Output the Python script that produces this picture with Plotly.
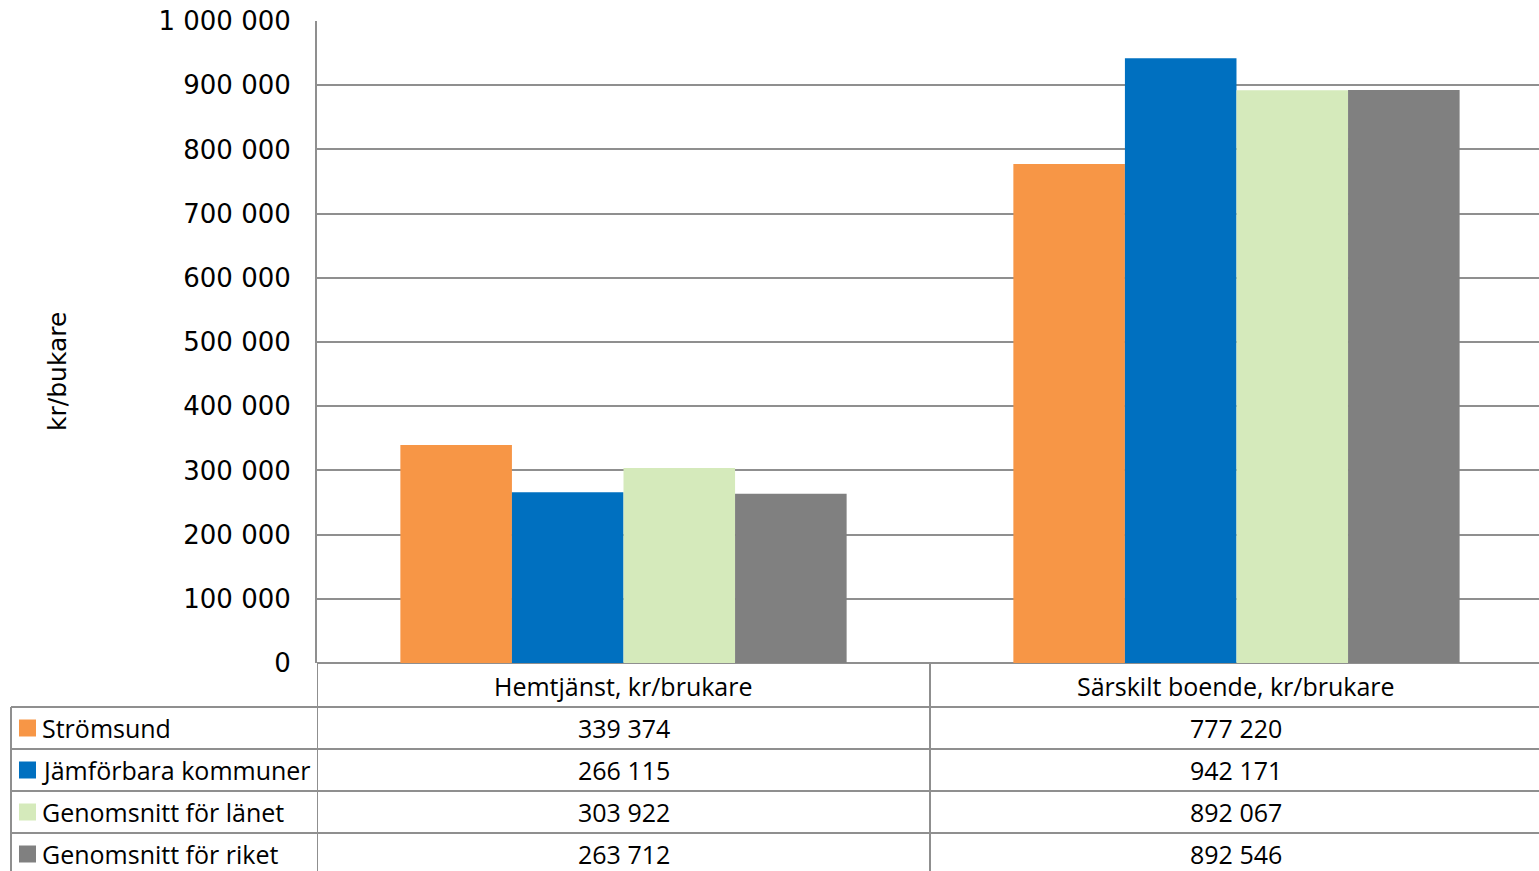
import plotly.graph_objects as go

categories = ["Hemtjänst, kr/brukare", "Särskilt boende, kr/brukare"]
series_names = ["Strömsund", "Jämförbara kommuner", "Genomsnitt för länet", "Genomsnitt för riket"]
stromsund = [339374, 777220]
jamforbara = [266115, 942171]
lanet = [303922, 892067]
riket = [263712, 892546]
series_values = [stromsund, jamforbara, lanet, riket]
colors = ["#F79646", "#0070C0", "#D5EABB", "#808080"]
y_ticks = [0, 100000, 200000, 300000, 400000, 500000, 600000, 700000, 800000, 900000, 1000000]

W, H = 1539, 871
LINE = "#8f8f8f"

def px(x):
    return x / W

def py(y):
    return 1 - y / H

def fmt(v):
    return f"{v:,}".replace(",", " ")

fig = go.Figure()
for name, vals, col in zip(series_names, series_values, colors):
    fig.add_trace(go.Bar(x=categories, y=vals, name=name, marker=dict(color=col, line=dict(width=0))))

shapes = []
annotations = []

row_tops = [707, 749, 791, 833]
row_h = 42
for y in row_tops:
    shapes.append(dict(type="line", xref="paper", yref="paper", x0=px(11), x1=1, y0=py(y), y1=py(y),
                       line=dict(color=LINE, width=2)))
shapes.append(dict(type="line", xref="paper", yref="paper", x0=px(11), x1=px(11), y0=py(707), y1=0,
                   line=dict(color=LINE, width=2)))
for xv in [-0.5, 0.5]:
    shapes.append(dict(type="line", xref="x", yref="paper", x0=xv, x1=xv, y0=py(663), y1=0,
                       line=dict(color=LINE, width=2)))

font_tbl = dict(family="Open Sans, Noto Sans, sans-serif", size=25, color="#000000")
for c in categories:
    annotations.append(dict(x=c, xref="x", y=py(686), yref="paper", text=c, showarrow=False,
                            font=font_tbl, xanchor="center", yanchor="middle"))
for i, (name, vals, col) in enumerate(zip(series_names, series_values, colors)):
    yc = row_tops[i] + row_h / 2
    shapes.append(dict(type="rect", xref="paper", yref="paper", x0=px(19), x1=px(36),
                       y0=py(yc + 8.5), y1=py(yc - 8.5), fillcolor=col, line=dict(width=0)))
    annotations.append(dict(x=px(40), xref="paper", y=py(yc), yref="paper", text=name, showarrow=False,
                            font=font_tbl, xanchor="left", yanchor="middle"))
    for c, v in zip(categories, vals):
        annotations.append(dict(x=c, xref="x", y=py(yc), yref="paper", text=fmt(v), showarrow=False,
                                font=font_tbl, xanchor="center", yanchor="middle"))

annotations.append(dict(x=px(58), xref="paper", y=py(372), yref="paper", text="kr/bukare", textangle=-90,
                        showarrow=False, font=dict(family="DejaVu Sans, Verdana, sans-serif", size=25, color="#000"),
                        xanchor="center", yanchor="middle"))

fig.update_layout(
    template="none",
    width=W, height=H,
    margin=dict(l=0, r=0, t=0, b=0, pad=0),
    paper_bgcolor="white", plot_bgcolor="white",
    barmode="group", bargap=0.272, bargroupgap=0,
    showlegend=False,
    separators=", ",
    shapes=shapes,
    annotations=annotations,
    xaxis=dict(domain=[px(317), 1], showticklabels=False, showgrid=False, zeroline=False,
               showline=False, ticks="", range=[-0.5, 1.4935], automargin=False),
    yaxis=dict(domain=[py(663), py(21)], range=[0, 1000000], tickvals=y_ticks, tickformat=",d",
               showgrid=True, gridcolor=LINE, gridwidth=2, zeroline=True, zerolinecolor=LINE, zerolinewidth=2,
               showline=True, linecolor=LINE, linewidth=2, ticks="", ticklabelstandoff=19, automargin=False,
               tickfont=dict(family="DejaVu Sans, Verdana, sans-serif", size=26, color="#000")),
)

fig.write_html("out.html", config={"displayModeBar": False},
               post_script="document.body.style.margin='0';document.body.style.overflow='hidden';")
